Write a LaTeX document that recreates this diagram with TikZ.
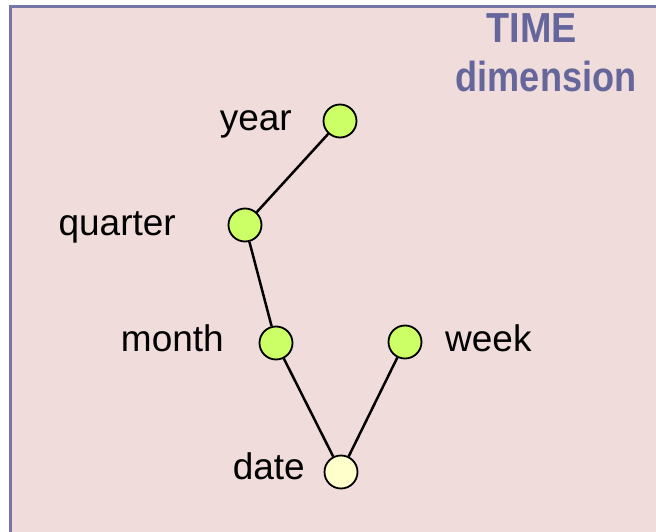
\documentclass[tikz,border=0pt]{standalone}
\usepackage{fontspec}
\setmainfont{Liberation Sans}
\definecolor{bgpink}{HTML}{F0DDDB}
\definecolor{framecol}{HTML}{7575A8}
\definecolor{titlecol}{HTML}{64669C}
\definecolor{levgreen}{HTML}{CCFF66}
\definecolor{levyellow}{HTML}{FFFFCC}
\tikzset{
  level/.style={circle, draw=black, line width=1.8pt, fill=levgreen, minimum size=33pt, inner sep=0pt},
  baselevel/.style={level, fill=levyellow},
  lab/.style={inner sep=0pt, anchor=base east, font=\fontsize{37}{44}\selectfont},
  labr/.style={lab, anchor=base west},
  ttl/.style={inner sep=0pt, anchor=base, text=titlecol, font=\fontsize{42}{48}\selectfont\bfseries},
  edge/.style={line width=2.5pt, draw=black}
}
\begin{document}
\begin{tikzpicture}[x=1pt,y=-1pt]
\useasboundingbox (0,0) rectangle (656,532);
\clip (0,0) rectangle (656,532);
\fill[white] (0,0) rectangle (656,532);
\draw[framecol, fill=bgpink, line width=3.2pt] (10.5,6.5) rectangle (680,560);
\node[ttl] (t1) at (532,43) {\scalebox{0.9}[1]{TIME}};
\node[ttl] (t2) at (546,92) {\scalebox{0.86}[1]{dimension}};
\node[level] (year) at (340,121) {};
\node[level] (quarter) at (245,225) {};
\node[level] (month) at (276,343) {};
\node[level] (week) at (405,342) {};
\node[baselevel] (date) at (341,472) {};
\draw[edge] (year) -- (quarter);
\draw[edge] (quarter) -- (month);
\draw[edge] (month) -- (date);
\draw[edge] (date) -- (week);
\node[lab] (lyear) at (292,131) {year};
\node[lab] (lquarter) at (176,235) {quarter};
\node[lab] (lmonth) at (224,351) {month};
\node[labr] (lweek) at (445,351) {week};
\node[lab] (ldate) at (305,479) {date};
\end{tikzpicture}
\end{document}
